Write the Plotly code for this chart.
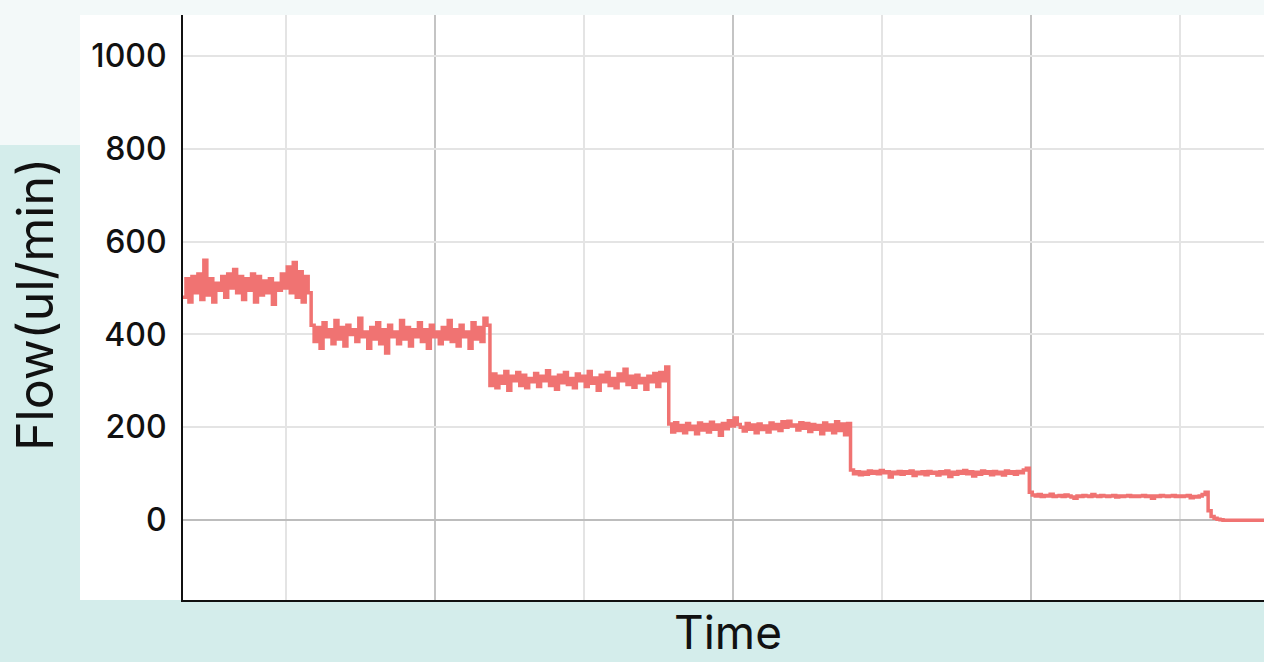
import numpy as np
import plotly.graph_objects as go

# Flow readings (ul/min), one sample per second
seg1 = [480, 520, 470, 525, 490, 530, 475, 560, 485, 520, 470, 510, 495, 525, 480, 530,
        500, 540, 490, 525, 475, 520, 495, 530, 470, 525, 485, 515, 490, 520, 465, 510,
        495, 530, 500, 545, 490, 555, 480, 535, 470, 525, 490]
seg2 = [420, 385, 415, 370, 425, 395, 410, 380, 430, 390, 415, 375, 420, 400, 410, 385,
        435, 395, 405, 370, 415, 390, 425, 380, 410, 360, 420, 395, 405, 380, 430, 390,
        415, 375, 410, 395, 425, 385, 410, 370, 420, 395, 405, 380, 415, 390, 430, 385,
        410, 375, 420, 395, 405, 370, 425, 390, 415, 385, 435, 420]
seg3 = [290, 315, 285, 310, 295, 320, 280, 310, 300, 318, 290, 312, 285, 305, 298, 316,
        288, 310, 300, 322, 290, 308, 282, 312, 296, 318, 292, 305, 285, 315, 300, 310,
        288, 320, 295, 306, 280, 312, 298, 318, 290, 305, 285, 315, 300, 325, 292, 310,
        286, 312, 296, 305, 282, 310, 298, 316, 288, 318, 300, 330]
seg4 = [207, 190, 210, 193, 204, 188, 208, 195, 202, 186, 209, 194, 206, 190, 211, 196,
        205, 183, 208, 197, 214, 203, 220, 206, 200, 192, 208, 196, 205, 188, 207, 195,
        203, 190, 209, 197, 206, 193, 212, 200, 213, 203, 205, 194, 210, 198, 208, 191,
        206, 196, 204, 186, 209, 194, 205, 188, 212, 193, 207, 184, 208]
seg5 = [108, 100, 104, 98, 103, 99, 106, 101, 105, 100, 107, 102, 104, 93, 103, 100,
        105, 99, 104, 101, 106, 96, 103, 100, 104, 98, 105, 101, 103, 97, 104, 100,
        106, 94, 103, 99, 105, 101, 107, 100, 104, 95, 103, 99, 106, 101, 104, 98,
        105, 100, 103, 97, 106, 101, 104, 99, 105, 102, 108, 112]
seg6 = [60, 54, 52, 55, 51, 53, 52, 56, 51, 52, 53, 51, 54, 52, 50, 47,
        52, 51, 53, 52, 51, 55, 52, 51, 53, 52, 51, 52, 53, 50, 52, 51,
        52, 53, 51, 52, 51, 52, 53, 51, 52, 47, 52, 51, 53, 52, 51, 52,
        53, 51, 52, 51, 52, 53, 48, 51, 50, 52, 55, 60]
tail = [20, 8, 4, 2, 1, 0, 0, 0, 0, 0, 0, 0, 0, 0, 0, 0, 0, 0, 0, 0]

flow = seg1 + seg2 + seg3 + seg4 + seg5 + seg6 + tail
time_s = np.arange(len(flow))

y_ticks = [0, 200, 400, 600, 800, 1000]

W, H = 1264, 662
ML, MR, MT, MB = 183, 0, 15, 62
pw, ph = W - ML - MR, H - MT - MB


def px(x):
    return (x - ML) / pw


def py(y):
    return (H - MB - y) / ph


fig = go.Figure()
fig.add_trace(go.Scatter(x=time_s, y=flow, mode="lines", line_shape="hv",
                         line=dict(color="#f07372", width=3.5), hoverinfo="skip"))

FONT = "Inter"
fig.update_layout(
    width=W, height=H,
    margin=dict(l=ML, r=MR, t=MT, b=MB),
    paper_bgcolor="#d4edeb",
    plot_bgcolor="white",
    showlegend=False,
    font=dict(family=FONT, color="#111111"),
    shapes=[
        dict(type="rect", xref="paper", yref="paper", x0=px(0), x1=px(W), y0=py(0), y1=py(MT),
             fillcolor="#f3f9f9", line_width=0, layer="below"),
        dict(type="rect", xref="paper", yref="paper", x0=px(0), x1=px(80), y0=py(MT), y1=py(145),
             fillcolor="#f3f9f9", line_width=0, layer="below"),
        dict(type="rect", xref="paper", yref="paper", x0=px(80), x1=1, y0=0, y1=1,
             fillcolor="white", line_width=0, layer="below"),
    ],
    annotations=[
        dict(text="Flow(ul/min)", xref="paper", yref="paper", x=px(35), y=py(305),
             showarrow=False, textangle=-90, font=dict(size=50, family=FONT, color="#111111"),
             xanchor="center", yanchor="middle"),
        dict(text="Time", xref="paper", yref="paper", x=px(728), y=py(661),
             showarrow=False, font=dict(size=46, family=FONT, color="#111111"),
             xanchor="center", yanchor="bottom", borderpad=0),
    ],
)

fig.update_xaxes(
    range=[0, pw * 50 / 149],
    showticklabels=False,
    showline=True, linecolor="#111111", linewidth=2,
    ticks="",
    tick0=84.6, dtick=100,
    showgrid=True, gridcolor="#c4c4c4", gridwidth=1.5,
    minor=dict(tick0=34.6, dtick=50, showgrid=True, gridcolor="#e4e4e4", gridwidth=1.5),
    zeroline=False,
)
fig.update_yaxes(
    range=[-172, 1088],
    tickvals=y_ticks,
    ticktext=[str(v) for v in y_ticks],
    tickfont=dict(size=32, family=FONT, color="#111111", weight=500),
    ticks="", ticklabelstandoff=8,
    showline=True, linecolor="#111111", linewidth=2,
    showgrid=True, gridcolor="#e4e4e4", gridwidth=1.5,
    zeroline=True, zerolinecolor="#bdbdbd", zerolinewidth=2,
)

fig.write_html("out.html", config={"displayModeBar": False},
               post_script="document.body.style.margin='0';document.body.style.overflow='hidden';")
